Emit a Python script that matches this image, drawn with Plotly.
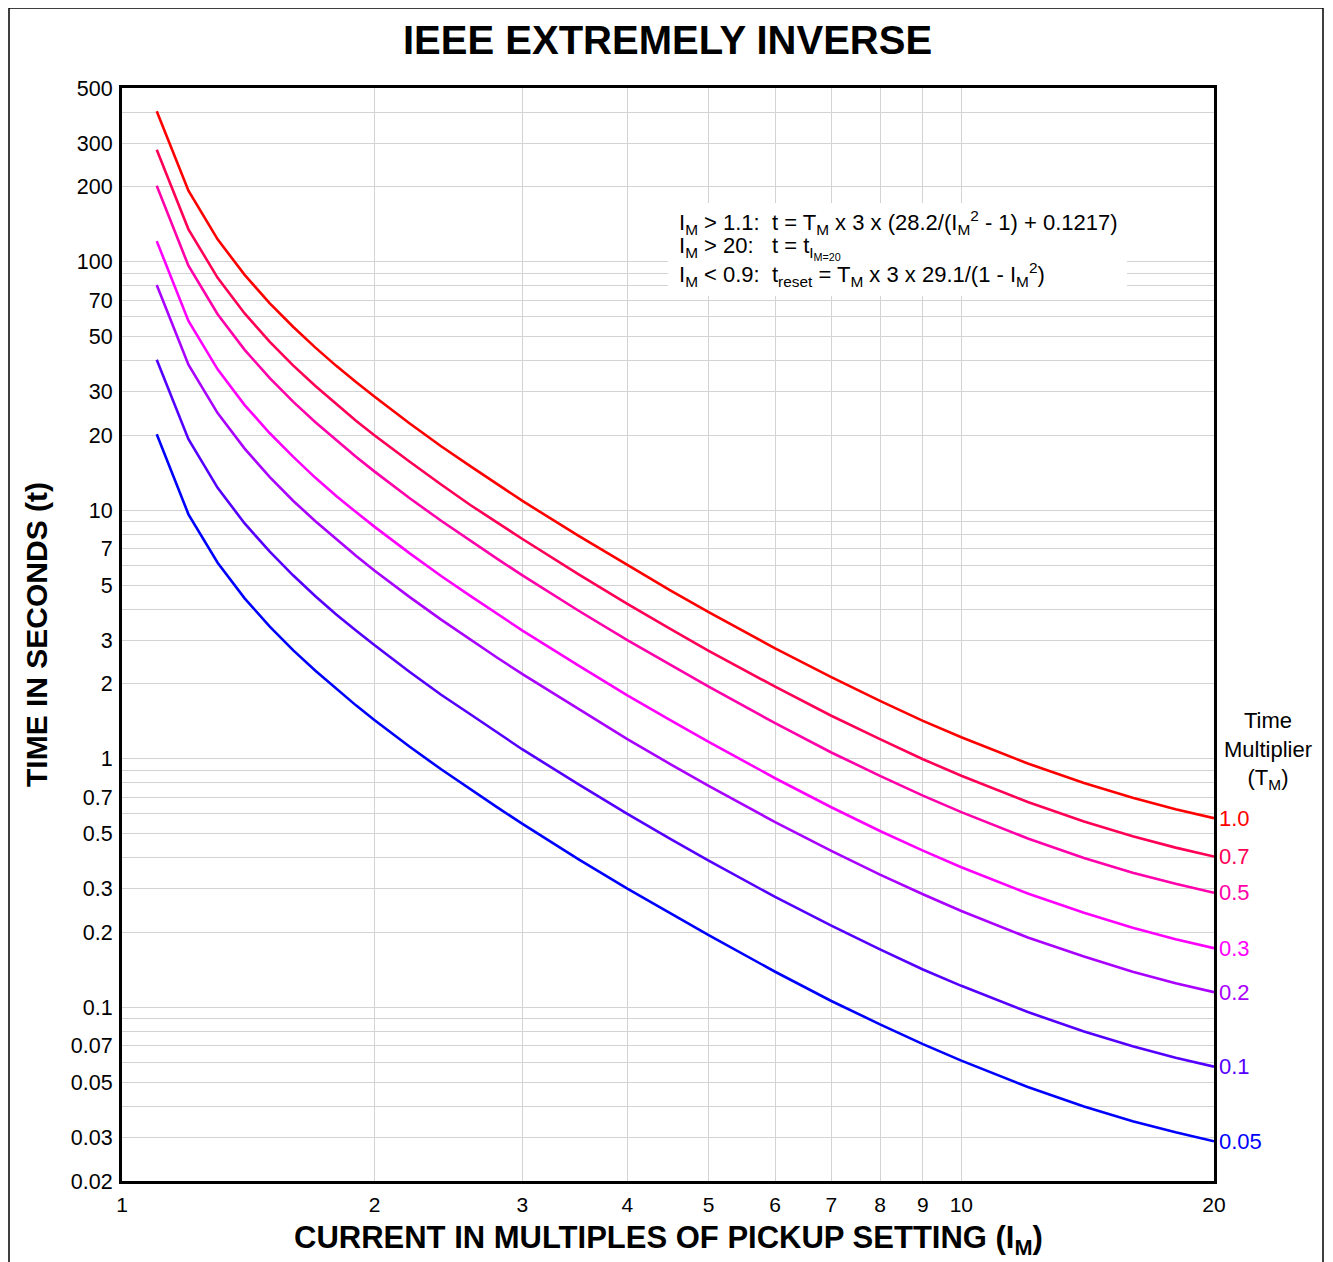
import numpy as np
import plotly.graph_objects as go

# ---------------- data ----------------
current = [1.1, 1.2, 1.3, 1.4, 1.5, 1.6, 1.7, 1.8, 1.9, 2.0, 2.2, 2.4, 2.6, 2.8, 3.0,
           3.5, 4, 4.5, 5, 6, 7, 8, 9, 10, 12, 14, 16, 18, 20]

t_100 = [403, 193, 123, 88.5, 68.0, 54.6, 45.1, 38.1, 32.8, 28.6, 22.4, 18.1, 15.05, 12.7, 10.9,
         7.89, 6.01, 4.76, 3.89, 2.78, 2.13, 1.71, 1.42, 1.22, 0.957, 0.799, 0.697, 0.627, 0.577]
t_070 = [282, 135, 86.1, 61.9, 47.6, 38.2, 31.6, 26.7, 22.9, 20.0, 15.7, 12.7, 10.5, 8.91, 7.66,
         5.52, 4.20, 3.33, 2.72, 1.95, 1.49, 1.20, 0.996, 0.854, 0.670, 0.559, 0.488, 0.439, 0.404]
t_050 = [202, 96.3, 61.5, 44.2, 34.0, 27.3, 22.6, 19.1, 16.4, 14.3, 11.2, 9.07, 7.53, 6.37, 5.47,
         3.94, 3.00, 2.38, 1.95, 1.39, 1.06, 0.854, 0.711, 0.610, 0.478, 0.399, 0.348, 0.314, 0.289]
t_030 = [121, 57.8, 36.9, 26.5, 20.4, 16.4, 13.5, 11.4, 9.83, 8.57, 6.72, 5.44, 4.52, 3.82, 3.28,
         2.37, 1.80, 1.43, 1.17, 0.835, 0.638, 0.512, 0.427, 0.366, 0.287, 0.240, 0.209, 0.188, 0.173]
t_020 = [80.6, 38.5, 24.6, 17.7, 13.6, 10.9, 9.03, 7.63, 6.56, 5.71, 4.48, 3.63, 3.01, 2.55, 2.19,
         1.58, 1.20, 0.952, 0.778, 0.556, 0.426, 0.342, 0.285, 0.244, 0.191, 0.160, 0.139, 0.125, 0.115]
t_010 = [40.3, 19.3, 12.3, 8.85, 6.81, 5.46, 4.51, 3.81, 3.28, 2.86, 2.24, 1.81, 1.51, 1.27, 1.09,
         0.789, 0.600, 0.476, 0.389, 0.278, 0.213, 0.171, 0.142, 0.122, 0.0957, 0.0799, 0.0697, 0.0627, 0.0577]
t_005 = [20.2, 9.63, 6.15, 4.42, 3.40, 2.73, 2.26, 1.91, 1.64, 1.43, 1.12, 0.907, 0.753, 0.637, 0.547,
         0.394, 0.300, 0.238, 0.195, 0.139, 0.106, 0.0854, 0.0711, 0.0610, 0.0478, 0.0399, 0.0348, 0.0314, 0.0289]

multiplier_labels = ["1.0", "0.7", "0.5", "0.3", "0.2", "0.1", "0.05"]
series = [t_100, t_070, t_050, t_030, t_020, t_010, t_005]
colors = ["#ff0000", "#ff0055", "#ff00aa", "#ff00ff", "#aa00ff", "#5500ff", "#0000ff"]

x_tickvals = [1, 2, 3, 4, 5, 6, 7, 8, 9, 10, 20]
x_ticktext = ["1", "2", "3", "4", "5", "6", "7", "8", "9", "10", "20"]

y_tickvals = [0.02, 0.03, 0.05, 0.07, 0.1, 0.2, 0.3, 0.5, 0.7, 1, 2, 3, 5, 7, 10,
              20, 30, 50, 70, 100, 200, 300, 500]
y_ticktext = ["0.02", "0.03", "0.05", "0.07", "0.1", "0.2", "0.3", "0.5", "0.7", "1", "2", "3",
              "5", "7", "10", "20", "30", "50", "70", "100", "200", "300", "500"]
y_minor_grid = [0.04, 0.06, 0.08, 0.09, 0.4, 0.6, 0.8, 0.9, 4, 6, 8, 9,
                40, 60, 80, 90, 400]

FONT = "Liberation Sans, Arial, sans-serif"

# ---------------- figure ----------------
fig = go.Figure()
for lab, ys, col in zip(multiplier_labels, series, colors):
    fig.add_trace(go.Scatter(x=current, y=ys, mode="lines", name=lab,
                             line=dict(color=col, width=2.6), showlegend=False,
                             hoverinfo="x+y"))

OFF = 8  # page body margin
W, H = 1333, 1262
L = 122 - OFF
T = 88 - OFF
R = W - (1214 - OFF)
B = H - (1181 - OFF)
PW, PH = W - L - R, H - T - B

def px_x(p):
    return (p - OFF - L) / PW

def px_y(p):
    return 1 - (p - OFF - T) / PH

GRID = "#d3d3d3"
fig.update_layout(
    width=W, height=H,
    margin=dict(l=L, r=R, t=T, b=B, pad=0),
    paper_bgcolor="white", plot_bgcolor="white",
    font=dict(family=FONT, color="black", size=22),
    xaxis=dict(type="log", range=[np.log10(1), np.log10(20)],
               tickmode="array", tickvals=x_tickvals, ticktext=x_ticktext,
               showgrid=True, gridcolor=GRID, gridwidth=1,
               showline=True, linecolor="black", linewidth=3, mirror=True,
               ticks="", ticklabelstandoff=3, tickfont=dict(size=21),
               zeroline=False),
    yaxis=dict(type="log", range=[np.log10(0.02), np.log10(500)],
               tickmode="array", tickvals=y_tickvals, ticktext=y_ticktext,
               showgrid=True, gridcolor=GRID, gridwidth=1,
               minor=dict(tickmode="array", tickvals=y_minor_grid, showgrid=True,
                          gridcolor=GRID, gridwidth=1, ticks=""),
               showline=True, linecolor="black", linewidth=3, mirror=True,
               ticks="", ticklabelstandoff=2, tickfont=dict(size=21.5),
               zeroline=False),
)

ann = []
ann.append(dict(text="<b>IEEE EXTREMELY INVERSE</b>", xref="paper", yref="paper",
                x=px_x(667), y=px_y(40), xanchor="center", yanchor="middle",
                showarrow=False, font=dict(size=40, family=FONT)))
ann.append(dict(text="<b>TIME IN SECONDS (t)</b>", xref="paper", yref="paper",
                x=px_x(36), y=px_y(635), xanchor="center", yanchor="middle", textangle=-90,
                showarrow=False, font=dict(size=30, family=FONT)))
ann.append(dict(text="<b>CURRENT IN MULTIPLES OF PICKUP SETTING (I<sub>M</sub>)</b>",
                xref="paper", yref="paper", x=px_x(668), y=px_y(1240),
                xanchor="center", yanchor="middle",
                showarrow=False, font=dict(size=31, family=FONT)))
ann.append(dict(text="Time<br>Multiplier<br>(T<sub>M</sub>)", xref="paper", yref="paper",
                x=px_x(1268), y=px_y(750), xanchor="center", yanchor="middle",
                showarrow=False, align="center", font=dict(size=22, family=FONT)))
for lab, ys, col in zip(multiplier_labels, series, colors):
    ann.append(dict(text=lab, x=np.log10(current[-1]), y=np.log10(ys[-1]),
                    xref="x", yref="y", xanchor="left", yanchor="middle", xshift=3,
                    showarrow=False, font=dict(size=22, color=col, family=FONT)))
formula_lines = [
    "I<sub>M</sub> > 1.1:  t = T<sub>M</sub> x 3 x (28.2/(I<sub>M</sub><sup>2</sup> - 1) + 0.1217)",
    "I<sub>M</sub> > 20:   t = t<sub>I<sub>M=20</sub></sub>",
    "I<sub>M</sub> < 0.9:  t<sub>reset</sub> = T<sub>M</sub> x 3 x 29.1/(1 - I<sub>M</sub><sup>2</sup>)",
]
formula_y = [222, 248, 274]
for line, yy in zip(formula_lines, formula_y):
    ann.append(dict(text=line, xref="paper", yref="paper", x=px_x(677), y=px_y(yy),
                    xanchor="left", yanchor="middle", showarrow=False, align="left",
                    font=dict(size=22, family=FONT)))
fig.update_layout(annotations=ann)

fig.add_shape(type="rect", xref="paper", yref="paper",
              x0=px_x(668), x1=px_x(1127), y0=px_y(296), y1=px_y(203),
              fillcolor="white", line=dict(width=0), layer="above")
fig.add_shape(type="path", xref="paper", yref="paper",
              path=f"M {px_x(9)} {px_y(1275)} L {px_x(9)} {px_y(8)} L {px_x(1323)} {px_y(8)} L {px_x(1323)} {px_y(1275)}",
              line=dict(color="black", width=1.5), layer="above")

fig.write_html("out.html")
